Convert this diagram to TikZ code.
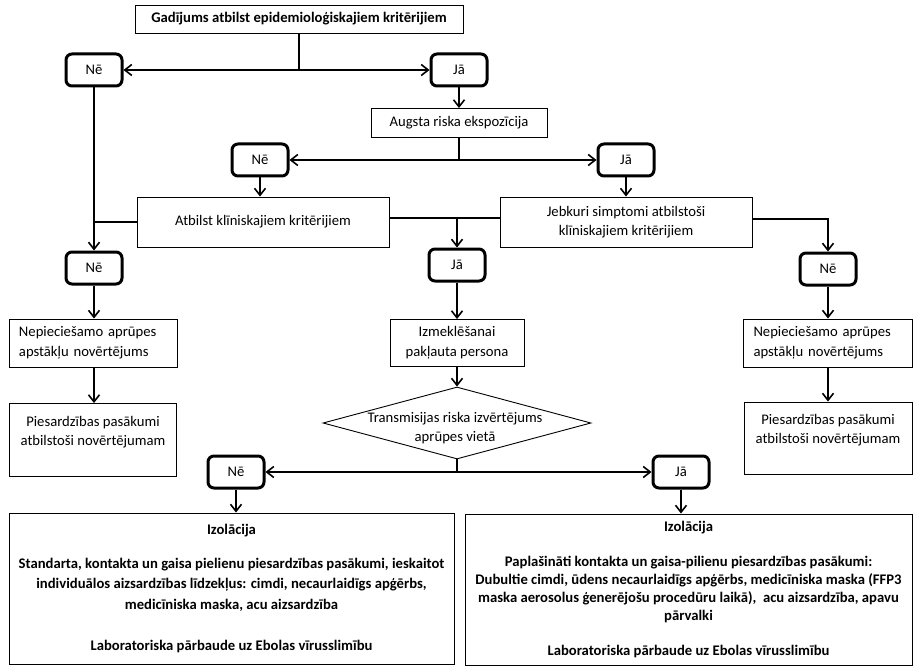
\documentclass[tikz,border=0pt]{standalone}
\usepackage{fontspec}
\setmainfont{Carlito}
\usetikzlibrary{arrows.meta,shapes.geometric}
\begin{document}
\begin{tikzpicture}[x=1pt,y=-1pt,
  every node/.style={font=\fontsize{14.67}{18}\selectfont, inner sep=0pt},
  box/.style={draw, line width=0.9pt, align=center},
  bfnt/.style={font=\fontsize{14.67}{18}\selectfont\bfseries},
  yn/.style={draw, line width=3pt, rounded corners=6pt, minimum width=56pt, minimum height=32pt},
  conn/.style={line width=1.6pt},
  arr/.style={conn, -{Straight Barb[length=7pt,width=11pt]}}
]
\useasboundingbox (0,0) rectangle (918,671);

% top
\node[box, bfnt, minimum width=328pt, minimum height=28pt] (g) at (299,19) {Gadījums atbilst epidemioloģiskajiem kritērijiem};
\node[yn] (ne1) at (94,70) {Nē};
\node[yn] (ja1) at (459,70) {Jā};
\node[box, minimum width=176pt, minimum height=29pt] (aug) at (459,123) {Augsta riska ekspozīcija};
\node[yn] (ne2) at (260,160) {Nē};
\node[yn] (ja2) at (626,160) {Jā};
\node[box, minimum width=252pt, minimum height=50pt] (atb) at (263,222) {Atbilst klīniskajiem kritērijiem};
\node[box, minimum width=252pt, minimum height=50pt, font=\fontsize{14.67}{19}\selectfont] (jeb) at (626,222) {Jebkuri simptomi atbilstoši\\klīniskajiem kritērijiem};
\node[yn] (ne3) at (94,268) {Nē};
\node[yn] (ja3) at (457,265) {Jā};
\node[yn] (ne4) at (828,269) {Nē};

% middle
\node[box, align=left, text width=148pt, inner xsep=10pt, minimum height=48pt, font=\fontsize{14.67}{20}\selectfont] (nepL) at (93,343) {Nepieciešamo aprūpes\\apstākļu novērtējums};
\node[box, align=left, text width=149pt, inner xsep=10pt, minimum height=48pt, font=\fontsize{14.67}{20}\selectfont] (nepR) at (828,343) {Nepieciešamo aprūpes\\apstākļu novērtējums};
\node[box, minimum width=134pt, minimum height=47pt, font=\fontsize{14.67}{20}\selectfont] (izm) at (457,343) {Izmeklēšanai\\pakļauta persona};
\node[box, minimum width=167pt, minimum height=73pt, font=\fontsize{14.67}{19}\selectfont] (piesL) at (93,440) {Piesardzības pasākumi\\atbilstoši novērtējumam\\~};
\node[box, minimum width=168pt, minimum height=72pt, font=\fontsize{14.67}{19}\selectfont] (piesR) at (828,438) {Piesardzības pasākumi\\atbilstoši novērtējumam\\~};

% diamond
\node[draw, diamond, line width=0.9pt, minimum width=268pt, minimum height=72pt, inner sep=0pt] (tr) at (457,423) {};
\node[align=center, font=\fontsize{14.67}{19}\selectfont] (trt) at (455,428) {Transmisijas riska izvērtējums\\aprūpes vietā};

\node[yn] (ne5) at (236,472) {Nē};
\node[yn] (ja5) at (681,472) {Jā};

% bottom boxes
\node[box, minimum width=445pt, minimum height=151pt, font=\fontsize{14.67}{20.5}\selectfont\bfseries] (bigL) at (231.5,588.5) {Izolācija\\[13.5pt]
Standarta, kontakta un gaisa pielienu piesardzības pasākumi, ieskaitot\\
individuālos aizsardzības līdzekļus: cimdi, necaurlaidīgs apģērbs,\\
medicīniska maska, acu aizsardzība\\[20.5pt]
Laboratoriska pārbaude uz Ebolas vīrusslimību};
\node[box, minimum width=447pt, minimum height=151pt, font=\fontsize{14.67}{17.7}\selectfont\bfseries] (bigR) at (688.5,589.5) {Izolācija\\[17.7pt]
Paplašināti kontakta un gaisa-pilienu piesardzības pasākumi:\\
Dubultie cimdi, ūdens necaurlaidīgs apģērbs, medicīniska maska (FFP3\\
maska aerosolus ģenerējošu procedūru laikā),\ \ acu aizsardzība, apavu\\
pārvalki\\[17.7pt]
Laboratoriska pārbaude uz Ebolas vīrusslimību};

% connectors
\coordinate (m1) at (299,70);
\draw[conn] (g.south) -- (m1);
\draw[arr] (m1) -- (ne1.east);
\draw[arr] (m1) -- (ja1.west);
\draw[arr] (ja1.south) -- (aug.north);
\coordinate (m2) at (459,160);
\draw[conn] (aug.south) -- (m2);
\draw[arr] (m2) -- (ne2.east);
\draw[arr] (m2) -- (ja2.west);
\draw[arr] (ne2.south) -- (ne2.south |- atb.north);
\draw[arr] (ja2.south) -- (jeb.north);
\draw[arr] (ne1.south) -- (ne3.north);
\draw[conn] (atb.west) -- (atb.west -| ne1.south);
\coordinate (m3) at (457,218);
\draw[conn] (atb.east |- m3) -- (m3);
\draw[conn] (jeb.west |- m3) -- (m3);
\draw[arr] (m3) -- (ja3.north);
\coordinate (m4) at (828,219);
\draw[arr] (jeb.east |- m4) -- (m4) -- (ne4.north);
\draw[arr] (ja3.south) -- (izm.north);
\draw[arr] (izm.south) -- (tr.north);
\coordinate (m5) at (457,472);
\draw[conn] (tr.south) -- (m5);
\draw[arr] (m5) -- (ne5.east);
\draw[arr] (m5) -- (ja5.west);
\draw[arr] (ne3.south) -- (ne3.south |- nepL.north);
\draw[arr] (nepL.south -| ne3.south) -- (ne3.south |- piesL.north);
\draw[arr] (ne4.south) -- (nepR.north);
\draw[arr] (nepR.south) -- (nepR.south |- piesR.north);
\draw[arr] (ne5.south) -- (ne5.south |- bigL.north);
\draw[arr] (ja5.south) -- (ja5.south |- bigR.north);
\end{tikzpicture}
\end{document}
